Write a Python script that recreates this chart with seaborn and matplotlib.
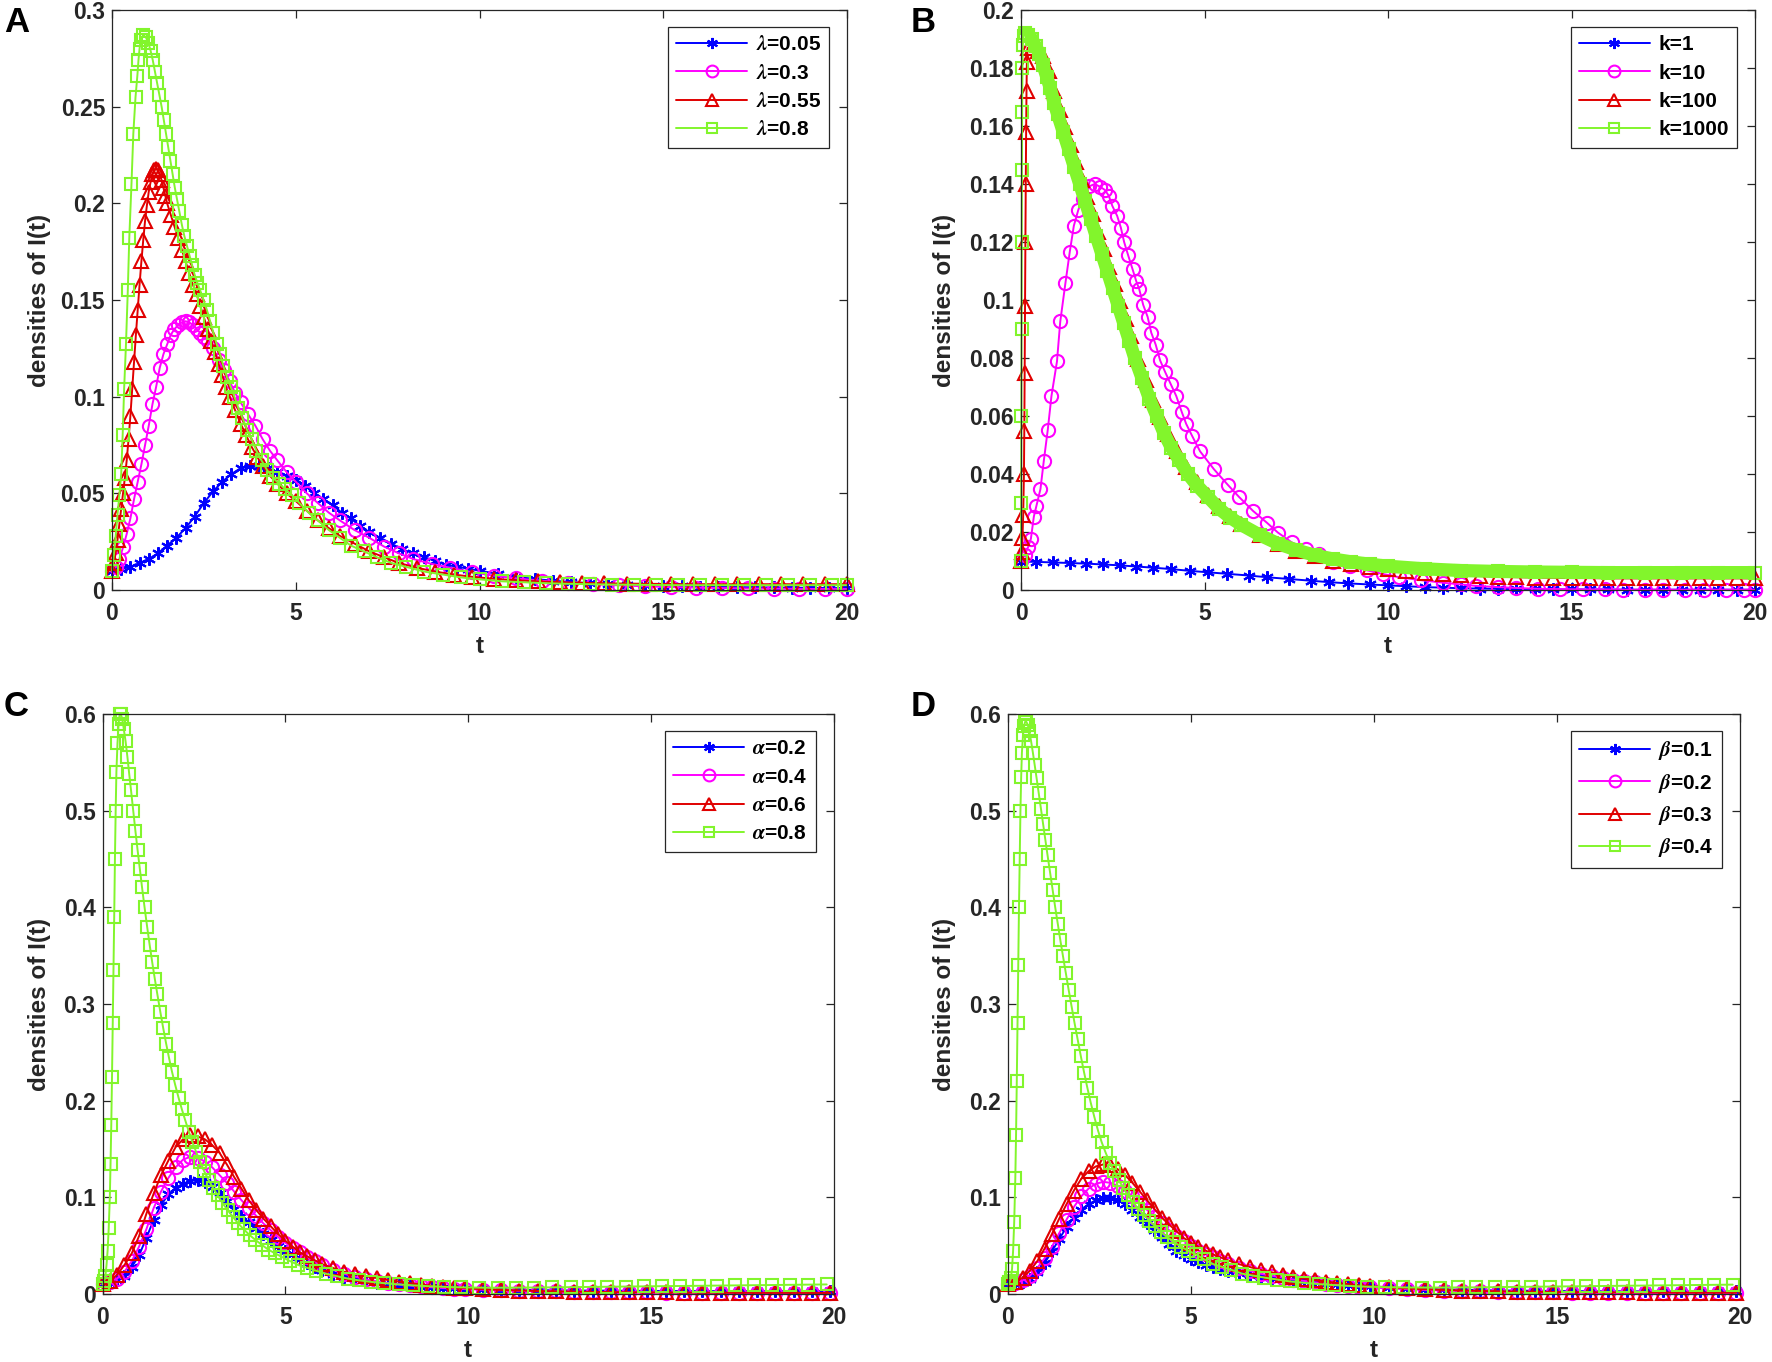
import numpy as np
import pandas as pd
import matplotlib
matplotlib.use("Agg")
import matplotlib.pyplot as plt
from matplotlib.lines import Line2D
import seaborn as sns

sns.set_style("white")
plt.rcParams["font.family"] = ["Liberation Sans", "DejaVu Sans"]
plt.rcParams["font.weight"] = "bold"
plt.rcParams["mathtext.fontset"] = "stix"

# ---------------- data ----------------
X_TICKS = [0, 5, 10, 15, 20]
X_TICKLABELS = ["0", "5", "10", "15", "20"]

# Panel A  (lambda)
A_LABELS = [r"$\lambda$=0.05", r"$\lambda$=0.3", r"$\lambda$=0.55", r"$\lambda$=0.8"]
A_YTICKS = [0, 0.05, 0.1, 0.15, 0.2, 0.25, 0.3]
A_YTICKLABELS = ["0", "0.05", "0.1", "0.15", "0.2", "0.25", "0.3"]
A_T1 = [0, 0.25, 0.5, 0.75, 1.0, 1.25, 1.5, 1.75, 2.0, 2.25, 2.5, 2.75, 3.0, 3.25, 3.5, 3.75, 4.0, 4.25, 4.5, 4.75,
        5.0, 5.25, 5.5, 5.75, 6.0, 6.25, 6.5, 6.75, 7.0, 7.3, 7.6, 7.9, 8.2, 8.5, 8.8, 9.1, 9.4, 9.7, 10.0, 10.5,
        11.0, 11.5, 12.0, 12.5, 13.0, 13.5, 14.0, 14.5, 15.0, 15.5, 16.0, 16.5, 17.0, 17.5, 18.0, 18.5, 19.0, 19.5, 20.0]
A_Y1 = [.010, .011, .012, .014, .016, .019, .023, .027, .032, .038, .045, .051, .056, .060, .063, .064, .064, .063, .061, .059,
        .057, .054, .050, .047, .044, .040, .037, .033, .030, .027, .024, .021, .019, .017, .015, .013, .012, .011, .010, .0083,
        .0068, .0057, .0048, .0041, .0035, .0031, .0027, .0024, .0021, .0019, .0017, .0016, .0015, .0014, .0013, .0012, .0011, .0010, .0010]
A_T2 = [0, 0.1, 0.2, 0.3, 0.4, 0.5, 0.6, 0.7, 0.8, 0.9, 1.0, 1.1, 1.2, 1.3, 1.4, 1.5, 1.6, 1.7, 1.8, 1.9, 2.0, 2.1, 2.2, 2.3,
        2.4, 2.5, 2.6, 2.75, 2.9, 3.05, 3.2, 3.35, 3.5, 3.7, 3.9, 4.1, 4.3, 4.5, 4.75, 5.0, 5.3, 5.6, 5.9, 6.2, 6.6, 7.0,
        7.4, 7.8, 8.2, 8.7, 9.2, 9.8, 10.4, 11.0, 11.7, 12.4, 13.1, 13.8, 14.5, 15.2, 15.9, 16.6, 17.3, 18.0, 18.7, 19.4, 20.0]
A_Y2 = [.010, .012, .016, .022, .029, .037, .047, .056, .065, .075, .085, .096, .105, .115, .122, .127, .132, .135, .137, .1385,
        .139, .1385, .137, .135, .133, .131, .129, .125, .119, .114, .108, .102, .097, .091, .085, .078, .072, .067, .061, .056,
        .050, .045, .040, .036, .031, .027, .0225, .019, .016, .0135, .0115, .0092, .0074, .006, .0048, .0038, .003, .0024, .0019,
        .0015, .0012, .001, .0008, .0007, .0006, .0005, .0005]
A_T3 = [0, 0.05, 0.1, 0.15, 0.2, 0.25, 0.3, 0.35, 0.4, 0.45, 0.5, 0.55, 0.6, 0.65, 0.7, 0.75, 0.8, 0.85, 0.9, 0.95, 1.0,
        1.05, 1.1, 1.15, 1.2, 1.25, 1.3, 1.35, 1.4, 1.45, 1.5, 1.6, 1.7, 1.8, 1.9, 2.0, 2.1, 2.2, 2.3, 2.4, 2.5, 2.6, 2.7,
        2.8, 2.9, 3.0, 3.1, 3.2, 3.35, 3.5, 3.65, 3.8, 3.95, 4.1, 4.3, 4.5, 4.75, 5.0, 5.3, 5.6, 5.9, 6.2, 6.6, 7.0, 7.4,
        7.8, 8.3, 8.8, 9.3, 9.8, 10.4, 11.0, 11.6, 12.2, 12.8, 13.4, 14.0, 14.6, 15.2, 15.8, 16.4, 17.0, 17.6, 18.2, 18.8,
        19.4, 20.0]
A_Y3 = [.010, .014, .019, .026, .034, .042, .050, .058, .067, .078, .090, .104, .118, .132, .145, .158, .170, .181, .191, .199,
        .206, .211, .215, .217, .218, .217, .215, .212, .208, .204, .200, .194, .188, .182, .176, .170, .164, .158, .153, .147,
        .141, .135, .129, .123, .117, .111, .105, .100, .093, .086, .080, .074, .069, .064, .059, .055, .050, .046, .041, .036,
        .032, .028, .024, .020, .017, .014, .0115, .0095, .008, .0068, .0058, .005, .0044, .004, .0037, .0035, .0033, .0032,
        .0031, .003, .003, .003, .003, .003, .003, .003, .003]
A_T4 = [0, 0.05, 0.1, 0.15, 0.2, 0.25, 0.29, 0.33, 0.38, 0.43, 0.47, 0.53, 0.58, 0.64, 0.69, 0.72, 0.75, 0.78, 0.85, 0.92,
        0.99, 1.05, 1.11, 1.17, 1.23, 1.29, 1.35, 1.41, 1.47, 1.53, 1.59, 1.65, 1.71, 1.77, 1.83, 1.9, 1.97, 2.04, 2.11,
        2.18, 2.25, 2.32, 2.4, 2.49, 2.58, 2.67, 2.76, 2.85, 2.94, 3.03, 3.13, 3.23, 3.33, 3.44, 3.55, 3.67, 3.8, 3.93,
        4.07, 4.22, 4.38, 4.55, 4.72, 4.9, 5.1, 5.35, 5.6, 5.9, 6.2, 6.5, 6.85, 7.2, 7.6, 8.0, 8.5, 9.0, 9.5, 10.0, 10.6,
        11.2, 11.8, 12.4, 13.0, 13.6, 14.2, 14.8, 15.4, 16.0, 16.6, 17.2, 17.8, 18.4, 19.0, 19.6, 20.0]
A_Y4 = [.010, .018, .028, .039, .049, .060, .080, .104, .127, .155, .182, .210, .236, .255, .266, .274, .280, .2845, .287, .286,
        .283, .279, .274, .268, .262, .256, .250, .243, .236, .229, .222, .215, .208, .202, .196, .189, .183, .178, .173, .168,
        .163, .159, .155, .150, .145, .139, .133, .127, .122, .116, .110, .105, .100, .094, .089, .083, .078, .072, .067, .062,
        .058, .055, .052, .049, .045, .040, .036, .031, .027, .023, .020, .017, .014, .012, .0095, .008, .0065, .0055, .0045,
        .004, .0035, .0032, .003, .0028, .0027, .0026, .0025, .0025, .0025, .0025, .0025, .0025, .0025, .0025, .0025]

# Panel B  (k)
B_LABELS = ["k=1", "k=10", "k=100", "k=1000"]
B_YTICKS = [0, 0.02, 0.04, 0.06, 0.08, 0.1, 0.12, 0.14, 0.16, 0.18, 0.2]
B_YTICKLABELS = ["0", "0.02", "0.04", "0.06", "0.08", "0.1", "0.12", "0.14", "0.16", "0.18", "0.2"]
B_T1 = [0, 0.42, 0.88, 1.33, 1.78, 2.24, 2.69, 3.14, 3.6, 4.1, 4.6, 5.1, 5.6, 6.2, 6.7, 7.3, 7.9, 8.4, 8.9, 9.5, 10.0,
        10.5, 11.0, 11.5, 12.0, 12.5, 13.0, 13.5, 14.0, 14.5, 15.0, 15.5, 16.0, 16.5, 17.0, 17.5, 18.0, 18.5, 19.0, 19.5, 20.0]
B_Y1 = [.0098, .0097, .0095, .0093, .0091, .0088, .0085, .0081, .0077, .0072, .0066, .0061, .0056, .0050, .0044, .0038,
        .0032, .0027, .0023, .0019, .0016, .0013, .0010, .0008, .0006, .0005, .0004, .0003, .0003, .0002, .0002, .0002,
        .0002, .0001, .0001, .0001, .0001, .0001, .0001, .0001, .0001]
B_T2 = [0, 0.1, 0.2, 0.27, 0.35, 0.42, 0.53, 0.62, 0.73, 0.83, 0.98, 1.07, 1.21, 1.33, 1.44, 1.56, 1.68, 1.86, 2.01, 2.16,
        2.28, 2.39, 2.49, 2.62, 2.72, 2.81, 2.92, 3.04, 3.14, 3.22, 3.33, 3.45, 3.55, 3.67, 3.79, 3.93, 4.08, 4.23, 4.38,
        4.5, 4.66, 4.88, 5.26, 5.64, 5.94, 6.32, 6.7, 7.0, 7.38, 7.76, 8.13, 8.51, 8.96, 9.42, 9.87, 10.3, 10.9, 11.5, 12.0,
        12.4, 13.0, 13.5, 14.1, 14.7, 15.3, 15.9, 16.4, 17.0, 17.5, 18.1, 18.6, 19.2, 19.7, 20.0]
B_Y2 = [.010, .012, .015, .0177, .0253, .029, .0348, .0444, .0553, .0669, .0788, .0926, .1058, .1167, .1256, .131, .135,
        .1392, .140, .139, .138, .136, .1324, .129, .125, .120, .1154, .1106, .1065, .1038, .0983, .0942, .0887, .0846,
        .0792, .0751, .071, .0669, .0614, .0573, .0532, .0478, .0416, .0362, .0321, .0273, .0232, .0198, .0164, .0143,
        .0123, .0096, .0082, .0068, .0055, .0044, .0034, .0025, .0019, .0014, .0010, .0007, .0004, .0003, .0002, .0002,
        .0001, .0001, .0001, .0001, .0001, .0001, .0001, .0001]
B_T3 = [0, 0.02, 0.04, 0.06, 0.08, 0.09, 0.1, 0.11, 0.12, 0.13, 0.14, 0.15, 0.16, 0.18, 0.3, 0.45, 0.6, 0.75, 0.9, 1.05,
        1.2, 1.35, 1.5, 1.65, 1.8, 1.95, 2.1, 2.25, 2.4, 2.55, 2.7, 2.85, 3.0, 3.2, 3.4, 3.6, 3.8, 4.0, 4.25, 4.5, 4.8,
        5.1, 5.4, 5.7, 6.0, 6.5, 7.0, 7.5, 8.0, 8.5, 9.0, 9.5, 10.0, 10.5, 11.0, 11.5, 12.0, 12.5, 13.0, 13.5, 14.0,
        14.5, 15.0, 15.5, 16.0, 16.5, 17.0, 17.5, 18.0, 18.5, 19.0, 19.5, 20.0]
B_Y3 = [.010, .013, .018, .026, .040, .055, .075, .098, .120, .140, .158, .172, .182, .187, .187, .186, .184, .179, .172,
        .1655, .1595, .1535, .1475, .1415, .1355, .1295, .1235, .1175, .1115, .1055, .0995, .0935, .0875, .0795, .0725,
        .0655, .0595, .0538, .0478, .0425, .0372, .0328, .029, .0256, .0229, .019, .0159, .0135, .0116, .0101, .009, .008,
        .0071, .0064, .0058, .0054, .0051, .0048, .0046, .0044, .0043, .0042, .0041, .0041, .004, .004, .004, .004, .004,
        .004, .004, .004, .004]
B_T4 = [0, 0.005, 0.01, 0.015, 0.02, 0.025, 0.03, 0.04, 0.05, 0.07, 0.1, 0.2, 0.3, 0.4, 0.5, 0.6, 0.7, 0.8, 0.9, 1.0,
        1.15, 1.3, 1.45, 1.6, 1.75, 1.9, 2.05, 2.2, 2.35, 2.5, 2.65, 2.8, 2.95, 3.1, 3.3, 3.5, 3.7, 3.9, 4.1, 4.3, 4.55,
        4.8, 5.1, 5.4, 5.7, 6.0, 6.5, 7.0, 7.5, 8.0, 8.5, 9.0, 9.5, 10.0, 11.0, 12.0, 13.0, 14.0, 15.0, 16.0, 17.0, 18.0,
        19.0, 20.0]
B_Y4 = [.010, .030, .060, .090, .120, .145, .165, .180, .188, .191, .192, .1915, .190, .1875, .185, .181, .177, .173, .168,
        .164, .158, .152, .146, .140, .134, .128, .122, .116, .110, .104, .098, .092, .086, .080, .073, .066, .060, .054,
        .049, .045, .040, .036, .032, .028, .025, .0225, .019, .016, .0138, .012, .0107, .0097, .0089, .0082, .0073, .0067,
        .0064, .0062, .0061, .006, .006, .006, .006, .006]

# Panel C  (alpha)
C_LABELS = [r"$\alpha$=0.2", r"$\alpha$=0.4", r"$\alpha$=0.6", r"$\alpha$=0.8"]
CD_YTICKS = [0, 0.1, 0.2, 0.3, 0.4, 0.5, 0.6]
CD_YTICKLABELS = ["0", "0.1", "0.2", "0.3", "0.4", "0.5", "0.6"]
C_T = [0, 0.2, 0.4, 0.6, 0.8, 1.0, 1.2, 1.4, 1.6, 1.8, 2.0, 2.2, 2.4, 2.6, 2.8, 3.0, 3.2, 3.4, 3.6, 3.8, 4.0, 4.2, 4.4,
       4.6, 4.8, 5.0, 5.2, 5.4, 5.6, 5.8, 6.0, 6.3, 6.6, 6.9, 7.2, 7.5, 7.8, 8.1, 8.4, 8.7, 9.0, 9.3, 9.6, 9.9, 10.4,
       10.9, 11.4, 11.9, 12.4, 12.9, 13.4, 13.9, 14.4, 14.9, 15.4, 15.9, 16.4, 16.9, 17.4, 17.9, 18.4, 18.9, 19.4, 19.9]
C_Y1 = [.010, .011, .014, .019, .028, .040, .058, .077, .092, .103, .110, .114, .117, .118, .116, .111, .104, .096, .088,
        .081, .074, .068, .062, .056, .050, .045, .041, .036, .032, .028, .025, .021, .018, .0155, .0133, .0118, .0106,
        .0094, .0085, .0077, .0070, .0064, .0059, .0055, .0050, .0046, .0043, .0040, .0038, .0036, .0035, .0034, .0033,
        .0032, .0031, .0031, .0030, .0030, .0030, .0030, .0030, .0030, .0030, .0030]
C_Y2 = [.010, .012, .016, .023, .034, .049, .067, .089, .106, .120, .131, .139, .142, .141, .137, .131, .123, .115, .106,
        .097, .089, .081, .073, .066, .059, .053, .048, .043, .038, .034, .030, .025, .021, .018, .0152, .0131, .0114,
        .010, .0088, .0078, .0069, .0062, .0056, .0051, .0044, .0038, .0033, .0029, .0026, .0023, .0021, .0019, .0017,
        .0016, .0015, .0014, .0013, .0012, .0011, .0011, .001, .001, .001, .001]
C_Y3 = [.010, .013, .020, .030, .042, .060, .083, .104, .123, .138, .152, .160, .164, .163, .160, .154, .146, .134, .121,
        .109, .097, .087, .078, .070, .062, .055, .049, .043, .039, .035, .031, .027, .023, .0205, .0182, .0165, .0145,
        .0128, .0112, .0098, .0086, .0076, .0067, .006, .005, .0042, .0036, .0031, .0027, .0024, .0022, .002, .0018,
        .0017, .0016, .0015, .0014, .0013, .0013, .0012, .0012, .0012, .0011, .0011]
C_TG = [0, 0.04, 0.08, 0.11, 0.14, 0.17, 0.2, 0.22, 0.24, 0.26, 0.28, 0.3, 0.32, 0.34, 0.36, 0.38, 0.41, 0.44, 0.47, 0.5,
        0.54, 0.58, 0.63, 0.68, 0.73, 0.78, 0.84, 0.9, 0.96, 1.02, 1.08, 1.15, 1.22, 1.29, 1.36, 1.43, 1.5, 1.58, 1.66,
        1.74, 1.82, 1.9, 1.99, 2.08, 2.17, 2.26, 2.36, 2.46, 2.56, 2.67, 2.78, 2.9, 3.02, 3.15, 3.28, 3.42, 3.56, 3.71,
        3.86, 4.02, 4.18, 4.35, 4.53, 4.72, 4.92, 5.13, 5.35, 5.6, 5.85, 6.1, 6.4, 6.7, 7.0, 7.35, 7.7, 8.1, 8.5, 8.9,
        9.35, 9.8, 10.3, 10.8, 11.3, 11.8, 12.3, 12.8, 13.3, 13.8, 14.3, 14.8, 15.3, 15.8, 16.3, 16.8, 17.3, 17.8, 18.3,
        18.8, 19.3, 19.8]
C_YG = [.010, .013, .019, .030, .045, .068, .100, .135, .175, .225, .280, .335, .390, .450, .500, .540, .570, .590, .600,
        .600, .595, .585, .572, .556, .538, .521, .500, .479, .459, .440, .421, .400, .380, .361, .343, .326, .310, .292,
        .275, .259, .244, .230, .216, .203, .191, .180, .168, .157, .147, .137, .127, .118, .110, .102, .094, .087, .080,
        .073, .067, .061, .056, .051, .046, .042, .038, .034, .030, .027, .024, .021, .0185, .016, .0142, .0125, .0112,
        .0099, .0089, .0081, .0074, .0069, .0066, .0065, .0066, .0067, .0069, .0071, .0073, .0075, .0077, .0079, .0081,
        .0083, .0085, .0087, .0089, .0091, .0093, .0095, .0097, .0099]

# Panel D  (beta)
D_LABELS = [r"$\beta$=0.1", r"$\beta$=0.2", r"$\beta$=0.3", r"$\beta$=0.4"]
D_T = [0, 0.2, 0.4, 0.6, 0.8, 1.0, 1.2, 1.4, 1.6, 1.8, 2.0, 2.2, 2.4, 2.6, 2.8, 3.0, 3.2, 3.4, 3.6, 3.8, 4.0, 4.2, 4.4,
       4.6, 4.8, 5.0, 5.2, 5.4, 5.6, 5.8, 6.0, 6.3, 6.6, 6.9, 7.2, 7.5, 7.8, 8.1, 8.4, 8.7, 9.0, 9.3, 9.6, 9.9, 10.4,
       10.9, 11.4, 11.9, 12.4, 12.9, 13.4, 13.9, 14.4, 14.9, 15.4, 15.9, 16.4, 16.9, 17.4, 17.9, 18.4, 18.9, 19.4, 19.9]
D_Y1 = [.010, .010, .012, .016, .023, .032, .044, .057, .069, .079, .087, .093, .097, .099, .099, .097, .093, .087, .080,
        .073, .066, .059, .052, .045, .040, .036, .033, .030, .028, .026, .024, .022, .020, .018, .0165, .0152, .014, .013,
        .012, .011, .010, .0092, .0085, .0078, .0068, .006, .0053, .0048, .0044, .004, .0037, .0035, .0033, .0031, .003,
        .0029, .0028, .0028, .0027, .0027, .0027, .0026, .0026, .0026]
D_Y2 = [.010, .011, .014, .019, .027, .037, .049, .063, .077, .090, .101, .109, .114, .116, .115, .112, .107, .101, .094,
        .087, .080, .073, .066, .060, .055, .050, .045, .041, .038, .034, .031, .027, .024, .021, .019, .017, .015, .0135,
        .012, .0107, .0096, .0086, .0077, .0069, .0058, .0049, .0042, .0036, .0031, .0027, .0023, .002, .0018, .0016,
        .0014, .0012, .0011, .001, .0009, .0008, .0007, .0007, .0006, .0006]
D_Y3 = [.010, .012, .017, .024, .034, .047, .062, .078, .093, .107, .119, .127, .132, .134, .133, .129, .123, .115, .106,
        .097, .088, .079, .072, .065, .058, .053, .049, .045, .041, .038, .035, .031, .028, .025, .0225, .020, .018, .016,
        .0143, .0128, .0114, .0102, .0091, .0082, .0069, .0058, .0049, .0042, .0036, .0032, .0028, .0025, .0023, .0021,
        .0019, .0018, .0017, .0016, .0015, .0015, .0014, .0014, .0014, .0014]
D_TG = C_TG
D_YG = [.010, .012, .017, .026, .045, .075, .12, .165, .22, .28, .34, .40, .45, .50, .535, .56, .578, .588, .592, .592,
        .589, .582, .572, .560, .547, .534, .518, .502, .486, .470, .454, .436, .418, .400, .383, .366, .350, .332, .314,
        .297, .280, .264, .246, .229, .213, .198, .183, .169, .157, .146, .136, .127, .118, .110, .102, .095, .088, .082,
        .076, .070, .064, .059, .054, .049, .045, .041, .036, .031, .028, .025, .021, .019, .017, .015, .013, .0115,
        .0102, .0092, .0083, .0076, .0071, .0068, .0067, .0067, .0068, .0069, .0071, .0073, .0075, .0077, .0079, .0081,
        .0083, .0085, .0087, .0089, .0091, .0093, .0095, .0097]

# ---------------- style ----------------
COLORS = ["#0000ff", "#ff00ff", "#e00000", "#82f52c"]
MARKERS = [(6, 2, 0), "o", "^", "s"]
MSIZES = [9.0, 9.5, 9.5, 8.3]
LEG_MSIZES = [8.0, 8.5, 9.0, 7.0]
INK = "#262626"
W, H = 1772, 1362

fig = plt.figure(figsize=(W / 100, H / 100), dpi=100)
fig.patch.set_facecolor("white")


def px_axes(left, top, right, bottom):
    return fig.add_axes([left / W, 1 - bottom / H, (right - left) / W, (bottom - top) / H])


def draw_series(ax, t, y, i, lw=1.4):
    df = pd.DataFrame({"t": t, "y": y})
    sns.lineplot(data=df, x="t", y="y", ax=ax, color=COLORS[i], marker=MARKERS[i],
                 markersize=MSIZES[i], markerfacecolor="none", markeredgecolor=COLORS[i],
                 markeredgewidth=1.5, linewidth=lw, estimator=None, sort=False,
                 legend=False, clip_on=False)


def finish(ax, yticks, yticklabels, ymax, labels, ylab_x):
    ax.set_xlim(0, 20)
    ax.set_ylim(0, ymax)
    ax.set_xticks(X_TICKS)
    ax.set_xticklabels(X_TICKLABELS)
    ax.set_yticks(yticks)
    ax.set_yticklabels(yticklabels)
    ax.tick_params(direction="in", length=6, width=0.9, top=True, right=True,
                   bottom=True, left=True, labelsize=16.5, color=INK, labelcolor=INK)
    ax.tick_params(axis="x", pad=9)
    ax.tick_params(axis="y", pad=5)
    for s in ax.spines.values():
        s.set_visible(True)
        s.set_color(INK)
        s.set_linewidth(0.9)
    ax.set_xlabel("t", fontsize=17.5, fontweight="bold", color=INK)
    ax.set_ylabel("densities of I(t)", fontsize=17.5, fontweight="bold", color=INK)
    ax.xaxis.set_label_coords(0.5, -0.078)
    ax.yaxis.set_label_coords(ylab_x, 0.5)
    handles = [Line2D([], [], color=COLORS[i], marker=MARKERS[i], markersize=LEG_MSIZES[i],
                      markerfacecolor="none", markeredgecolor=COLORS[i], markeredgewidth=1.5,
                      linewidth=1.4) for i in range(4)]
    w_ax = ax.get_position().width * W
    h_ax = ax.get_position().height * H
    leg = ax.legend(handles, labels, loc="upper right",
                    bbox_to_anchor=(1 - 18 / w_ax, 1 - 17 / h_ax), borderaxespad=0,
                    prop={"size": 15, "weight": "bold"}, handlelength=3.4,
                    handletextpad=0.4, borderpad=0.4, labelspacing=0.45,
                    fancybox=False, framealpha=1, edgecolor=INK, numpoints=1)
    leg.get_frame().set_linewidth(0.9)
    for txt in leg.get_texts():
        txt.set_color("black")


# Panel A
axA = px_axes(112, 10, 847, 590)
for i, (t, y) in enumerate([(A_T1, A_Y1), (A_T2, A_Y2), (A_T3, A_Y3), (A_T4, A_Y4)]):
    draw_series(axA, t, y, i)
finish(axA, A_YTICKS, A_YTICKLABELS, 0.3, A_LABELS, -0.083)

# Panel B
axB = px_axes(1021, 10, 1755, 590)
for i, (t, y) in enumerate([(B_T1, B_Y1), (B_T2, B_Y2), (B_T3, B_Y3), (B_T4, B_Y4)]):
    draw_series(axB, t, y, i)
# the k=1000 markers are so dense that they merge into a solid band
tb = np.array(B_T4)
yb = np.array(B_Y4)
keep = tb >= 0.07
axB.plot(tb[keep], yb[keep], color=COLORS[3], linewidth=9.5, solid_capstyle="butt", clip_on=False)
finish(axB, B_YTICKS, B_YTICKLABELS, 0.2, B_LABELS, -0.0886)

# Panel C
axC = px_axes(102.5, 714, 834, 1294)
for i, (t, y) in enumerate([(C_T, C_Y1), (C_T, C_Y2), (C_T, C_Y3), (C_TG, C_YG)]):
    draw_series(axC, t, y, i)
finish(axC, CD_YTICKS, CD_YTICKLABELS, 0.6, C_LABELS, -0.0704)

# Panel D
axD = px_axes(1008, 714, 1740, 1294)
for i, (t, y) in enumerate([(D_T, D_Y1), (D_T, D_Y2), (D_T, D_Y3), (D_TG, D_YG)]):
    draw_series(axD, t, y, i)
finish(axD, CD_YTICKS, CD_YTICKLABELS, 0.6, D_LABELS, -0.071)

# panel letters
for letter, x, y in [("A", 4, 6), ("B", 911, 6), ("C", 4, 690), ("D", 911, 690)]:
    fig.text(x / W, 1 - y / H, letter, fontsize=25, fontweight="bold", ha="left", va="top", color="black")

fig.savefig("out.png", dpi=100, facecolor="white")
